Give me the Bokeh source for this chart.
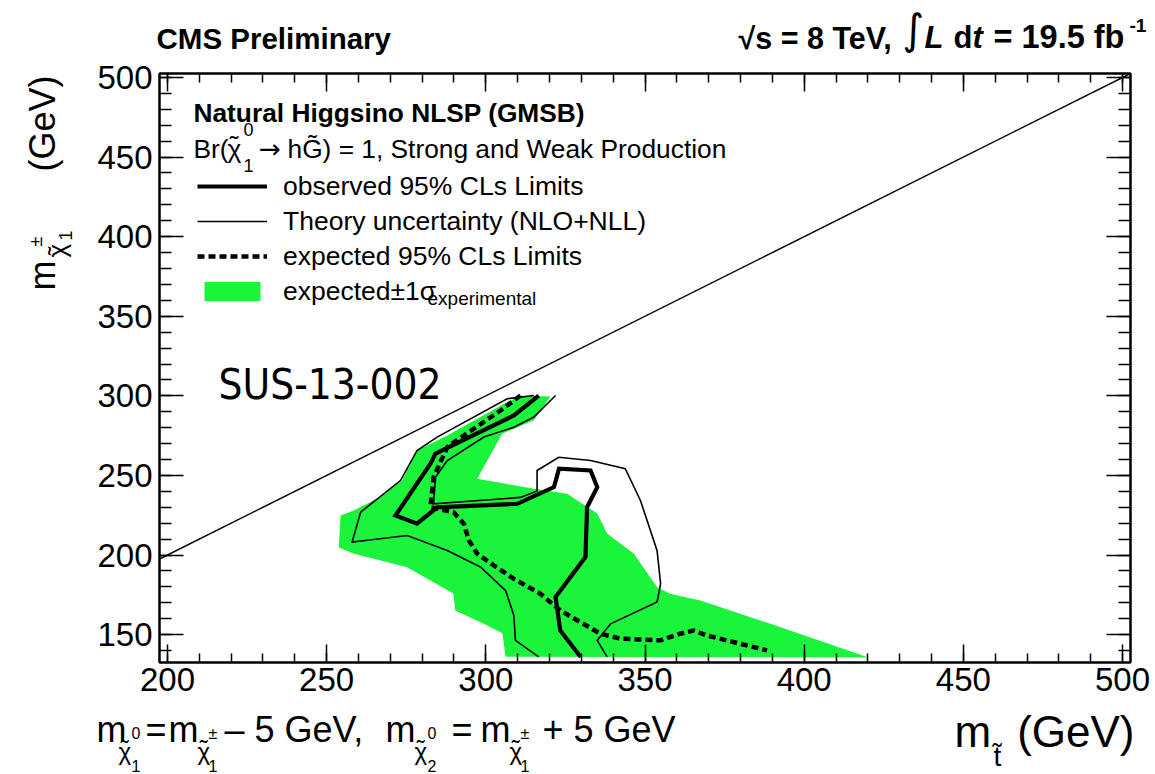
import math
from bokeh.plotting import figure
from bokeh.layouts import column, row
from bokeh.models import (Range1d, LinearAxis, SingleIntervalTicker, Label,
                          Legend, LegendItem)
from bokeh.embed import file_html
from bokeh.resources import INLINE

# ---------------- data ----------------
x_ticks = [200, 250, 300, 350, 400, 450, 500]
y_ticks = [150, 200, 250, 300, 350, 400, 450, 500]

# kinematic boundary m_chi = m_stop
diag_x = [197.5, 502.5]
diag_y = [197.5, 502.5]

# expected +-1 sigma experimental band
band_x = [254.4, 258.5, 266.9, 273.7, 278.4, 287.9, 306.7, 310.9, 320.3, 315.1,
          305.1, 297.3, 315.1, 325.5, 335.0, 338.1, 346.5, 353.8, 357.9, 367.4,
          389.4, 420.2, 306.2, 305.2, 300.5, 290.4, 289.8, 275.3, 258.4, 253.8]
band_y = [224.8, 228.0, 236.4, 246.8, 265.7, 275.1, 296.1, 300.0, 299.6, 284.6,
          276.2, 247.9, 241.6, 238.5, 226.1, 213.5, 200.8, 179.7, 175.7, 171.5,
          156.8, 135.7, 136.1, 150.8, 155.7, 165.2, 175.9, 192.3, 201.0, 204.8]

# observed limit
obs_x = [316.6, 308.8, 284.2, 282.6, 271.6, 278.4, 284.7, 309.9, 321.4, 323.0,
         332.9, 335.0, 331.8, 331.3, 321.9, 323.4, 329.8]
obs_y = [300.2, 287.7, 263.7, 257.4, 224.8, 219.7, 230.0, 232.2, 242.7, 254.2,
         253.1, 242.7, 230.0, 198.7, 173.6, 152.6, 136.0]

# theory uncertainty (two contours)
thA_x = [316.6, 309.3, 308.8, 306.2, 298.3, 287.9, 275.3, 258.0, 260.7, 273.2,
         278.4, 284.7, 306.7, 315.1]
thA_y = [136.0, 146.4, 162.1, 177.7, 192.5, 202.8, 212.3, 208.1, 227.0, 246.8,
         265.7, 274.1, 298.2, 300.2]
thB_x = [321.9, 315.1, 308.8, 299.4, 287.9, 284.2, 283.6, 310.9, 316.1, 316.1,
         322.9, 332.9, 343.8, 348.6, 353.8, 354.9, 353.8, 339.2, 335.0, 338.1]
thB_y = [300.2, 286.7, 280.3, 274.1, 259.4, 249.0, 232.2, 236.2, 240.3, 253.1,
         261.4, 259.4, 254.2, 234.1, 202.7, 182.0, 170.5, 156.8, 146.4, 136.0]

# expected limit
exp_x = [310.9, 304.6, 287.9, 283.6, 282.6, 289.9, 293.1, 294.7, 297.3, 302.5,
         308.8, 317.1, 323.4, 336.0, 342.3, 354.9, 361.1, 365.3, 369.4, 388.3]
exp_y = [300.2, 290.8, 267.9, 249.0, 230.0, 226.9, 219.7, 209.2, 200.8, 193.5,
         185.1, 175.7, 165.2, 150.6, 147.5, 146.4, 150.6, 152.6, 149.5, 140.1]

GREEN = "#1af43a"
FONT = "Liberation Sans"
BASE = 0.38        # baseline correction (fraction of font size)

# ---------------- page geometry (page pixels) ----------------
PW, PH = 1155, 774
LW = 80            # width of left strip (y title)
TH = 56            # height of top strip (header)
MB = 707           # bottom edge of main figure
FL, FR, FT, FB = 159, 1130, 73, 662          # frame edges
XMIN, XMAX, YMIN, YMAX = 197.5, 502.5, 132.5, 502.5


def X(px):
    return XMIN + (px - FL) * (XMAX - XMIN) / (FR - FL)


def Y(py):
    return YMAX - (py - FT) * (YMAX - YMIN) / (FB - FT)


p = figure(width=PW - LW, height=MB - TH, output_backend="svg",
           toolbar_location=None, title=None,
           x_range=Range1d(XMIN, XMAX), y_range=Range1d(YMIN, YMAX),
           min_border_left=FL - LW, min_border_right=PW - FR,
           min_border_top=FT - TH, min_border_bottom=MB - FB)
p.xgrid.visible = False
p.ygrid.visible = False
p.outline_line_color = "black"
p.outline_line_width = 2
p.background_fill_color = "white"
p.border_fill_color = "white"

p.add_layout(LinearAxis(), "above")
p.add_layout(LinearAxis(), "right")

for ax in p.xaxis:
    ax.ticker = SingleIntervalTicker(interval=50, num_minor_ticks=5)
    ax.major_tick_in = 18
    ax.major_tick_out = 0
    ax.minor_tick_in = 9
    ax.minor_tick_out = 0
for ax in p.yaxis:
    ax.ticker = SingleIntervalTicker(interval=50, num_minor_ticks=5)
    ax.major_tick_in = 24
    ax.major_tick_out = 0
    ax.minor_tick_in = 12
    ax.minor_tick_out = 0
for ax in p.axis:
    ax.axis_line_width = 2
    ax.major_tick_line_width = 1.5
    ax.minor_tick_line_width = 1.5
    ax.major_label_text_font = FONT
    ax.major_label_text_font_size = "33px"
    ax.major_label_text_color = "black"
for ax in (p.above[0], p.right[0]):
    ax.major_label_text_font_size = "0px"
    ax.major_label_text_color = None
    ax.major_label_standoff = 0
p.below[0].major_label_standoff = 5
p.left[0].major_label_standoff = 7

# ---------------- glyphs ----------------
r_band = p.patch(band_x, band_y, fill_color=GREEN, line_color=None)
p.line(diag_x, diag_y, line_color="black", line_width=1.5)
r_thA = p.line(thA_x, thA_y, line_color="black", line_width=1.6, line_join="miter")
r_thB = p.line(thB_x, thB_y, line_color="black", line_width=1.6, line_join="miter")
r_exp = p.line(exp_x, exp_y, line_color="black", line_width=4.5, line_dash="7 4")
r_obs = p.line(obs_x, obs_y, line_color="black", line_width=4.2, line_join="miter")

legend = Legend(items=[
    LegendItem(label="observed 95% CLs Limits", renderers=[r_obs]),
    LegendItem(label="Theory uncertainty (NLO+NLL)", renderers=[r_thA]),
    LegendItem(label="expected 95% CLs Limits", renderers=[r_exp]),
    LegendItem(label="expected\u00b11\u03c3", renderers=[r_band]),
], location=(38, FB - 307), orientation="vertical")
legend.glyph_width = 70
legend.glyph_height = 24
legend.label_height = 32
legend.spacing = 3
legend.label_standoff = 16
legend.padding = 0
legend.margin = 0
legend.border_line_color = None
legend.background_fill_alpha = 0
legend.label_text_font = FONT
legend.label_text_font_size = "26.5px"
legend.label_text_color = "black"
p.add_layout(legend)


def aux(w, h, xr, yr, **borders):
    f = figure(width=w, height=h, x_range=xr, y_range=yr,
               output_backend="svg", toolbar_location=None, min_border=0,
               title=None, x_axis_type=None, y_axis_type=None, **borders)
    f.outline_line_color = None
    f.grid.visible = False
    f.background_fill_color = "white"
    f.border_fill_color = "white"
    return f


# strips around the main figure, all addressed in page pixels
top = aux(PW, TH, Range1d(0, PW), Range1d(TH, 0))
left = aux(LW, MB - TH, Range1d(0, LW), Range1d(FB, FT),
           min_border_top=FT - TH, min_border_bottom=MB - FB)
bottom = aux(PW, PH - MB, Range1d(0, PW), Range1d(PH, MB))


def L(where, px, py, text, size, style="normal", align="left", font=FONT):
    """Place a text with its alphabetic baseline at page pixel (px, py)."""
    d = BASE * size
    if where == "left":
        x, y, ang = px - d, py, math.pi / 2
    else:
        x, y, ang = px, py - d, 0.0
    fig = {"main": p, "top": top, "left": left, "bot": bottom}[where]
    if where == "main":
        x, y = X(x), Y(y)
    fig.add_layout(Label(x=x, y=y, text=text, text_font=font,
                         text_font_size=f"{size}px", text_font_style=style,
                         text_color="black", angle=ang, text_align=align,
                         text_baseline="alphabetic"))


def chi(where, px, py, size):
    """chi with a tilde accent."""
    L(where, px, py, "\u03c7", size)
    if where == "left":
        L(where, px, py - 0.09 * size, "\u02dc", size)
    else:
        L(where, px + 0.09 * size, py - 0.12 * size, "\u02dc", size)


# subscript of legend entry
L("main", 427, 305, "experimental", 19)

# legend header
L("main", 193, 122, "Natural Higgsino NLSP (GMSB)", 26.3, "bold")
L("main", 193, 158, "Br(", 26.3)
chi("main", 227, 158, 26.3)
L("main", 243, 136, "0", 18)
L("main", 243, 172, "1", 18)
L("main", 258, 158, "\u2192", 26.3, font="DejaVu Sans")
L("main", 287, 158, "hG\u0303) = 1, Strong and Weak Production", 26.3)

# big tag
L("main", 218, 400, "SUS-13-002", 42, font="DejaVu Sans Condensed")

# header
L("top", 156, 49, "CMS Preliminary", 29.5, "bold")
L("top", 738, 49, "\u221as = 8 TeV,", 30.5, "bold")
L("top", 902, 45, "\u222b", 42, font="DejaVu Sans")
L("top", 924, 49, "L", 31, "bold italic")
L("top", 953, 49, "d", 31, "bold")
L("top", 972, 49, "t", 31, "bold italic")
L("top", 993, 49, "= 19.5 fb", 32.5, "bold")
L("top", 1129, 32, "-1", 19, "bold")

# y-axis title (rotated)
L("left", 56, 75, "(GeV)", 36, align="right")
L("left", 56, 290, "m", 36)
chi("left", 66, 257, 26)
L("left", 42, 246, "\u00b1", 18)
L("left", 72, 240, "1", 18)

# x-axis title
L("bot", 1134, 748, "(GeV)", 44, align="right")
L("bot", 954, 748, "m", 44)
L("bot", 993, 767, "t\u0303", 28)

# bottom-left mass relation
L("bot", 96, 743, "m", 36)
chi("bot", 118, 760, 24)
L("bot", 131, 739, "0", 16)
L("bot", 131, 772, "1", 16)
L("bot", 145, 743, "=", 36)
L("bot", 168, 743, "m", 36)
chi("bot", 197, 760, 24)
L("bot", 208, 739, "\u00b1", 16)
L("bot", 208, 772, "1", 16)
L("bot", 224, 743, "\u2013 5 GeV,", 36)
L("bot", 385, 743, "m", 36)
chi("bot", 414, 760, 24)
L("bot", 427, 739, "0", 16)
L("bot", 427, 772, "2", 16)
L("bot", 451, 743, "=", 36)
L("bot", 480, 743, "m", 36)
chi("bot", 509, 760, 24)
L("bot", 520, 739, "\u00b1", 16)
L("bot", 520, 772, "1", 16)
L("bot", 542, 743, "+ 5 GeV", 36)

page = column(top, row(left, p, spacing=0), bottom, spacing=0)
open("out.html", "w").write(file_html(page, INLINE))
